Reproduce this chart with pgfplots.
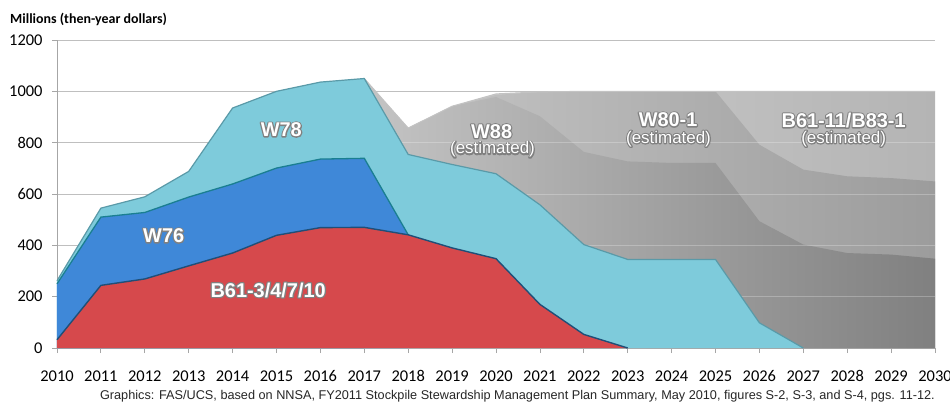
\documentclass[border=0pt]{standalone}
\usepackage{pgfplots}
\pgfplotsset{compat=1.18}
\usepackage{pgfplotstable}
\usepackage{fontspec}
\setmainfont{Carlito}
\newfontfamily\arial{Liberation Sans}
\newcommand\outl[1]{\makebox[0pt][l]{\special{pdf:literal direct 1 Tr 2.4 w 1 j 0.5 0.5 0.5 RG}#1\special{pdf:literal direct 0 Tr}}#1}

\definecolor{redc}{HTML}{D6494C}
\definecolor{bluec}{HTML}{3F88D8}
\definecolor{lbluec}{HTML}{7ECBDB}
\definecolor{redline}{HTML}{1F4F78}
\definecolor{blueline}{HTML}{1A7F91}
\definecolor{lblueline}{HTML}{5A9AA8}
\definecolor{gridc}{HTML}{BFBFBF}
\definecolor{axisc}{HTML}{A6A6A6}
\definecolor{gA1}{HTML}{D2D2D2}
\definecolor{gA2}{HTML}{B4B4B4}
\definecolor{gB1}{HTML}{C8C8C8}
\definecolor{gB2}{HTML}{9C9C9C}
\definecolor{gC1}{HTML}{C4C4C4}
\definecolor{gC2}{HTML}{808080}
\definecolor{gtop}{HTML}{C3C3C3}

\pgfplotstableread{
year red w76 w78
2010 32 250 262
2011 244 510 545
2012 269 528 589
2013 320 588 688
2014 370 639 935
2015 439 701 1000
2016 469 736 1036
2017 470 739 1050
2018 441 441 754
2019 390 390 715
2020 348 348 679
2021 170 170 558
2022 53 53 403
2023 0 0 345
2024 0 0 345
2025 0 0 345
2026 0 0 98
2027 0 0 0
2028 0 0 0
2029 0 0 0
2030 0 0 0
}\colored

\pgfplotstableread{
year w88 w80 b61
2017 1050 1050 1050
2018 857 857 857
2019 942 942 942
2020 978 986 990
2021 903 998 998
2022 764 1000 1000
2023 727 1000 1000
2024 721 1000 1000
2025 721 1000 1000
2026 494 792 1000
2027 403 695 1000
2028 370 669 1000
2029 364 662 1000
2030 348 649 1000
}\grays

\begin{document}
\begin{tikzpicture}
\path[use as bounding box] (-57bp,-56bp) rectangle (893bp,348bp);
\begin{axis}[
  scale only axis,
  width=878bp, height=308bp,
  xmin=2010, xmax=2030, ymin=0, ymax=1200,
  xtick={2010,2011,...,2030},
  ytick={0,200,...,1200},
  axis lines=left,
  axis line style={axisc, line width=0.8pt, -},
  ymajorgrids,
  grid style={gridc, line width=0.8pt},
  tick align=outside,
  major tick length=5bp,
  tick style={axisc, line width=0.8pt},
  /pgf/number format/1000 sep={},
  /pgf/number format/assume math mode=true,
  ticklabel style={font=\fontsize{16.5}{16.5}\selectfont, text=black},
  xticklabel style={yshift=-14bp},
  yticklabel style={xshift=-6bp},
  clip=false,
]
% gray (estimated) layers, painted top-down
\addplot[draw=none, left color=gA1, right color=gA2] table[x=year,y=b61]{\grays} \closedcycle;
\addplot[draw=none, left color=gB1, right color=gB2] table[x=year,y=w80]{\grays} \closedcycle;
\addplot[draw=none, left color=gC1, right color=gC2] table[x=year,y=w88]{\grays} \closedcycle;
\addplot[gtop, line width=1pt] table[x=year,y=b61]{\grays};
% faint gridlines over the gray layers
\addplot[white, opacity=0.25, line width=0.8pt] coordinates {(2017,200) (2030,200)};
\addplot[white, opacity=0.25, line width=0.8pt] coordinates {(2017,400) (2030,400)};
\addplot[white, opacity=0.25, line width=0.8pt] coordinates {(2017,600) (2030,600)};
\addplot[white, opacity=0.25, line width=0.8pt] coordinates {(2017,800) (2030,800)};
% coloured layers
\addplot[draw=none, fill=lbluec] table[x=year,y=w78, restrict x to domain=2010:2027]{\colored} \closedcycle;
\addplot[draw=none, fill=bluec] table[x=year,y=w76, restrict x to domain=2010:2018]{\colored} \closedcycle;
\addplot[draw=none, fill=redc] table[x=year,y=red, restrict x to domain=2010:2023]{\colored} \closedcycle;
\addplot[lblueline, line width=1.2pt] table[x=year,y=w78, restrict x to domain=2010:2027]{\colored};
\addplot[blueline, line width=1.3pt] table[x=year,y=w76, restrict x to domain=2010:2018]{\colored};
\addplot[redline, line width=1.4pt] table[x=year,y=red, restrict x to domain=2010:2023]{\colored};
% labels
\node[text=white, font=\arial\bfseries\fontsize{20}{20}\selectfont] at (axis cs:2015.11,851) {\outl{W78}};
\node[text=white, font=\arial\bfseries\fontsize{20}{20}\selectfont] at (axis cs:2012.43,438) {\outl{W76}};
\node[text=white, font=\arial\bfseries\fontsize{20}{20}\selectfont] at (axis cs:2014.81,226) {\outl{B61-3/4/7/10}};
\node[text=white, font=\arial\bfseries\fontsize{20}{20}\selectfont] at (axis cs:2019.9,844) {\outl{W88}};
\node[text=white, font=\arial\fontsize{17}{17}\selectfont] at (axis cs:2019.92,773) {\outl{(estimated)}};
\node[text=white, font=\arial\bfseries\fontsize{20}{20}\selectfont] at (axis cs:2023.92,890) {\outl{W80-1}};
\node[text=white, font=\arial\fontsize{17}{17}\selectfont] at (axis cs:2023.93,815) {\outl{(estimated)}};
\node[text=white, font=\arial\bfseries\fontsize{20}{20}\selectfont] at (axis cs:2027.92,887) {\outl{B61-11/B83-1}};
\node[text=white, font=\arial\fontsize{17}{17}\selectfont] at (axis cs:2027.92,815) {\outl{(estimated)}};
% title and source
\node[anchor=west, font=\bfseries\fontsize{14}{14}\selectfont, inner sep=0pt] at ([xshift=-47bp, yshift=21bp]rel axis cs:0,1) {Millions (then-year dollars)};
\node[anchor=east, font=\arial\fontsize{12.75}{12.75}\selectfont, inner sep=0pt, text=black!85] at ([yshift=-48bp]rel axis cs:1,0) {Graphics: FAS/UCS, based on NNSA, FY2011 Stockpile Stewardship Management Plan Summary, May 2010, figures S-2, S-3, and S-4, pgs. 11-12.};
\end{axis}
\end{tikzpicture}
\end{document}
